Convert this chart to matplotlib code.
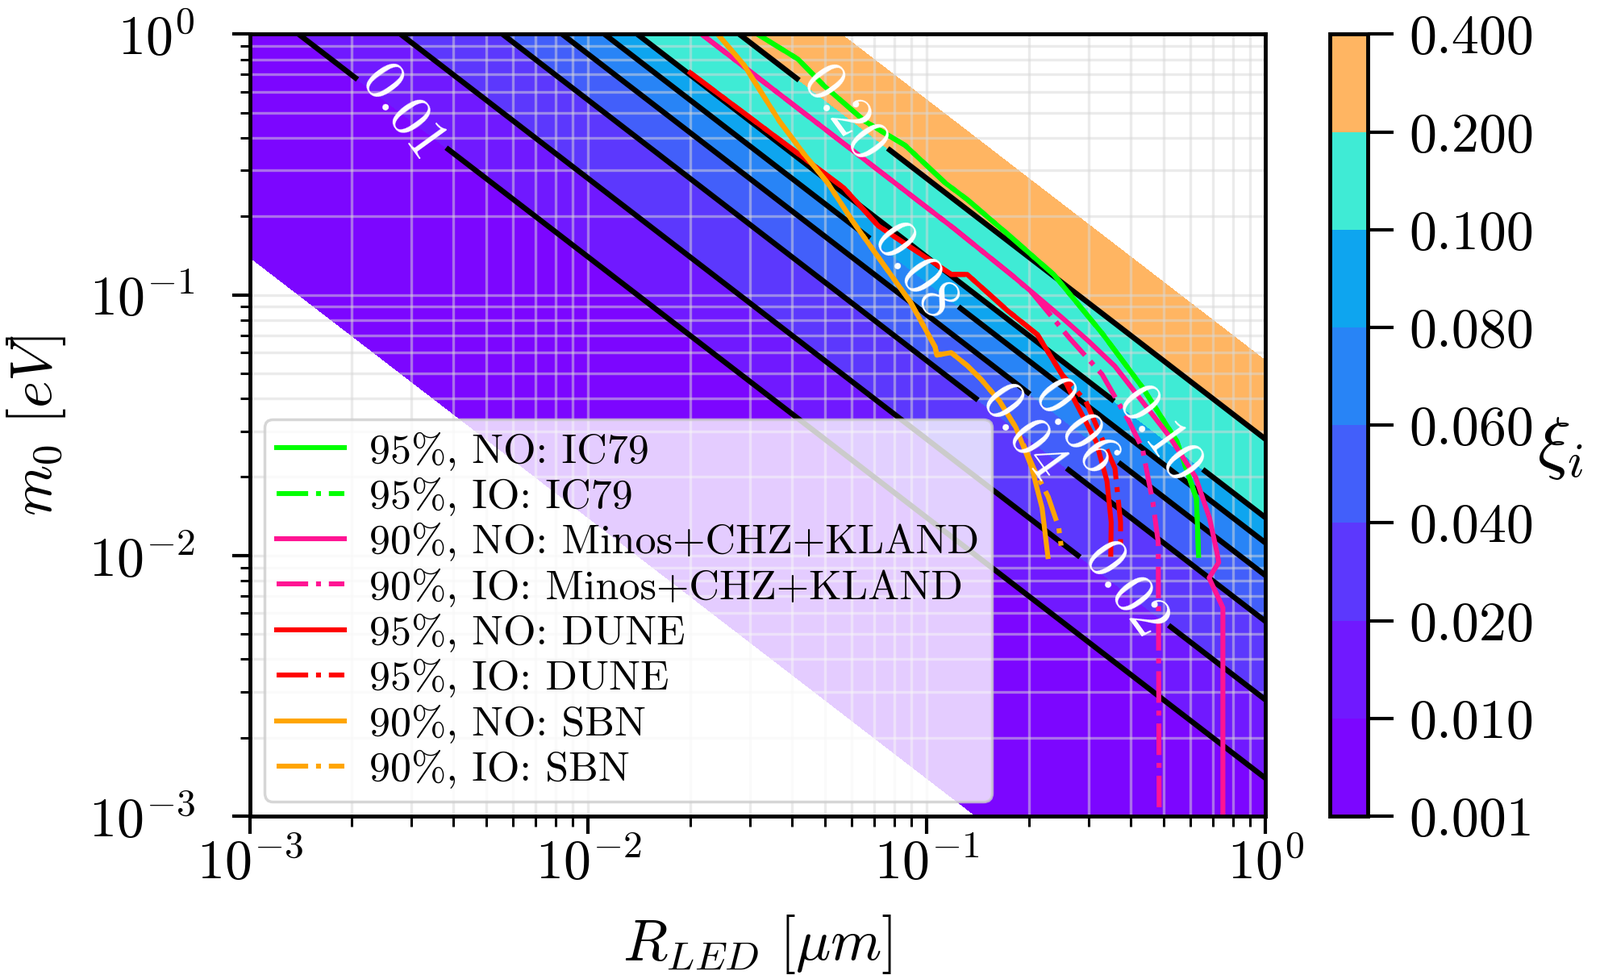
import numpy as np
import matplotlib
matplotlib.use('Agg')
import matplotlib.pyplot as plt
from matplotlib.ticker import FormatStrFormatter

plt.rcParams['font.family'] = 'serif'
plt.rcParams['font.serif'] = ['cmr10']
plt.rcParams['mathtext.fontset'] = 'cm'
plt.rcParams['axes.formatter.use_mathtext'] = True

# colour bands and black contour lines of xi
levels = [0.001, 0.01, 0.02, 0.04, 0.06, 0.08, 0.1, 0.2, 0.4]
line_levels = [0.01, 0.02, 0.04, 0.06, 0.08, 0.1, 0.2]
hbarc = 0.1973  # eV * um

# where the contour labels sit (R, m0)
label_pos = [(0.00283, 0.50), (0.0585, 0.52), (0.0927, 0.124), (0.197, 0.0307),
             (0.272, 0.0307), (0.50, 0.0307), (0.381, 0.00724)]

# limit curves: R_LED [um], m0 [eV]
ic79_no_R = [0.0316, 0.0416, 0.0499, 0.0656, 0.0863, 0.1135, 0.1315, 0.173, 0.2366, 0.329, 0.4325, 0.547, 0.625, 0.634]
ic79_no_m = [1.0, 0.802, 0.630, 0.463, 0.374, 0.268, 0.232, 0.171, 0.1197, 0.0712, 0.0442, 0.0274, 0.0165, 0.0100]
ic79_io_R = [0.0316, 0.0416, 0.0499, 0.0656, 0.0863, 0.1135, 0.1315, 0.173, 0.2366, 0.329, 0.4325, 0.547, 0.625, 0.633]
ic79_io_m = [1.0, 0.802, 0.630, 0.463, 0.374, 0.268, 0.232, 0.171, 0.1197, 0.0712, 0.0442, 0.0274, 0.0165, 0.0104]

mck_no_R = [0.0216, 0.030, 0.050, 0.080, 0.120, 0.180, 0.250, 0.300, 0.359, 0.518, 0.621, 0.683, 0.718, 0.727, 0.681, 0.748, 0.748]
mck_no_m = [1.0, 0.72, 0.432, 0.27, 0.18, 0.1176, 0.0819, 0.0664, 0.0532, 0.0288, 0.020, 0.0139, 0.0103, 0.0094, 0.0082, 0.0063, 0.001]
mck_io_R = [0.0216, 0.030, 0.050, 0.080, 0.120, 0.180, 0.204, 0.2636, 0.329, 0.394, 0.4325, 0.465, 0.482, 0.485]
mck_io_m = [1.0, 0.72, 0.432, 0.27, 0.18, 0.1176, 0.102, 0.0682, 0.0495, 0.0329, 0.0258, 0.0159, 0.0112, 0.001]

dune_no_R = [0.0200, 0.0359, 0.0569, 0.0719, 0.0946, 0.118, 0.1315, 0.173, 0.212, 0.250, 0.273, 0.316, 0.340, 0.350, 0.349]
dune_no_m = [0.711, 0.402, 0.2566, 0.1836, 0.145, 0.1197, 0.1197, 0.0869, 0.0703, 0.0496, 0.0393, 0.0273, 0.0193, 0.0134, 0.0101]
dune_io_R = [0.0200, 0.0359, 0.0569, 0.0719, 0.0946, 0.118, 0.1315, 0.173, 0.212, 0.250, 0.2946, 0.359, 0.373, 0.373]
dune_io_m = [0.711, 0.402, 0.2566, 0.1836, 0.145, 0.1197, 0.1197, 0.0869, 0.0703, 0.0496, 0.039, 0.0216, 0.01345, 0.0104]

sbn_no_R = [0.0241, 0.0288, 0.0316, 0.0367, 0.0432, 0.0510, 0.0601, 0.0731, 0.0896, 0.1057, 0.107, 0.1179, 0.1315, 0.1445, 0.1638, 0.183, 0.204, 0.2188, 0.2276]
sbn_no_m = [1.0, 0.763, 0.630, 0.463, 0.349, 0.268, 0.193, 0.135, 0.0933, 0.0631, 0.0587, 0.060, 0.0535, 0.0474, 0.0391, 0.031, 0.0217, 0.0152, 0.0099]
sbn_io_R = [0.0241, 0.0288, 0.0316, 0.0367, 0.0432, 0.0510, 0.0601, 0.0731, 0.0896, 0.1057, 0.107, 0.1179, 0.1315, 0.1445, 0.1638, 0.183, 0.207, 0.228, 0.245, 0.249]
sbn_io_m = [1.0, 0.763, 0.630, 0.463, 0.349, 0.268, 0.193, 0.135, 0.0933, 0.0631, 0.0587, 0.060, 0.0535, 0.0474, 0.0391, 0.031, 0.0215, 0.0168, 0.0128, 0.0109]

fig = plt.figure(figsize=(19.84, 12.09), dpi=100)
ax = fig.add_axes([0.156, 0.163, 0.635, 0.802])
cax = fig.add_axes([0.831, 0.163, 0.024, 0.802])
ax.set_xscale('log')
ax.set_yscale('log')
ax.set_xlim(1e-3, 1)
ax.set_ylim(1e-3, 1)

R = np.logspace(-3, 0, 600)
M = np.logspace(-3, 0, 600)
RR, MM = np.meshgrid(R, M)
XI = np.sqrt(2) * RR * MM / hbarc

cf = ax.contourf(RR, MM, XI, levels=levels, cmap='rainbow')
cs = ax.contour(RR, MM, XI, levels=line_levels, colors='black', linewidths=4.8)
labels = ax.clabel(cs, fmt='%1.2f', manual=label_pos, inline=True, fontsize=52, colors='white')
for t in labels:
    t.set_rotation(-54)

lw = 4.4
ax.plot(ic79_no_R, ic79_no_m, color='lime', lw=lw, label='95%, NO: IC79')
ax.plot(ic79_io_R, ic79_io_m, color='lime', lw=lw, ls='-.', label='95%, IO: IC79')
ax.plot(mck_no_R, mck_no_m, color='deeppink', lw=lw, label='90%, NO: Minos+CHZ+KLAND')
ax.plot(mck_io_R, mck_io_m, color='deeppink', lw=lw, ls='-.', label='90%, IO: Minos+CHZ+KLAND')
ax.plot(dune_no_R, dune_no_m, color='red', lw=lw, label='95%, NO: DUNE')
ax.plot(dune_io_R, dune_io_m, color='red', lw=lw, ls='-.', label='95%, IO: DUNE')
ax.plot(sbn_no_R, sbn_no_m, color='orange', lw=lw, label='90%, NO: SBN')
ax.plot(sbn_io_R, sbn_io_m, color='orange', lw=lw, ls='-.', label='90%, IO: SBN')

ax.grid(True, which='both', color='0.85', alpha=0.5, lw=2.4)

for sp in ax.spines.values():
    sp.set_linewidth(3.5)
ax.tick_params(which='major', length=16, width=3, labelsize=49, direction='out')
ax.tick_params(axis='y', which='major', pad=33)
ax.tick_params(axis='x', which='major', pad=3)
ax.tick_params(which='minor', length=9, width=2.2, direction='out')

ax.set_xlabel(r'$R_{LED}\ [\mu m]$', fontsize=52)
ax.set_ylabel(r'$m_0\ [eV]$', fontsize=52)
ax.xaxis.set_label_coords(0.5, -0.124)
ax.yaxis.set_label_coords(-0.179, 0.5)

leg = ax.legend(loc='lower left', fontsize=37.5, labelspacing=0.16, handlelength=1.6,
                handletextpad=0.6, borderpad=0.3, borderaxespad=0.35, framealpha=0.8)
leg.get_frame().set_linewidth(2.5)
leg.get_frame().set_edgecolor('0.8')

cbar = fig.colorbar(cf, cax=cax, ticks=levels, format=FormatStrFormatter('%.3f'))
cbar.outline.set_linewidth(3.5)
cbar.ax.tick_params(length=23, width=3, labelsize=49, pad=14)
cbar.set_label(r'$\xi_i$', fontsize=62, rotation=0, ha='left', va='center')
cbar.ax.yaxis.set_label_coords(5.4, 0.47)

fig.savefig('out.png', dpi=100)
